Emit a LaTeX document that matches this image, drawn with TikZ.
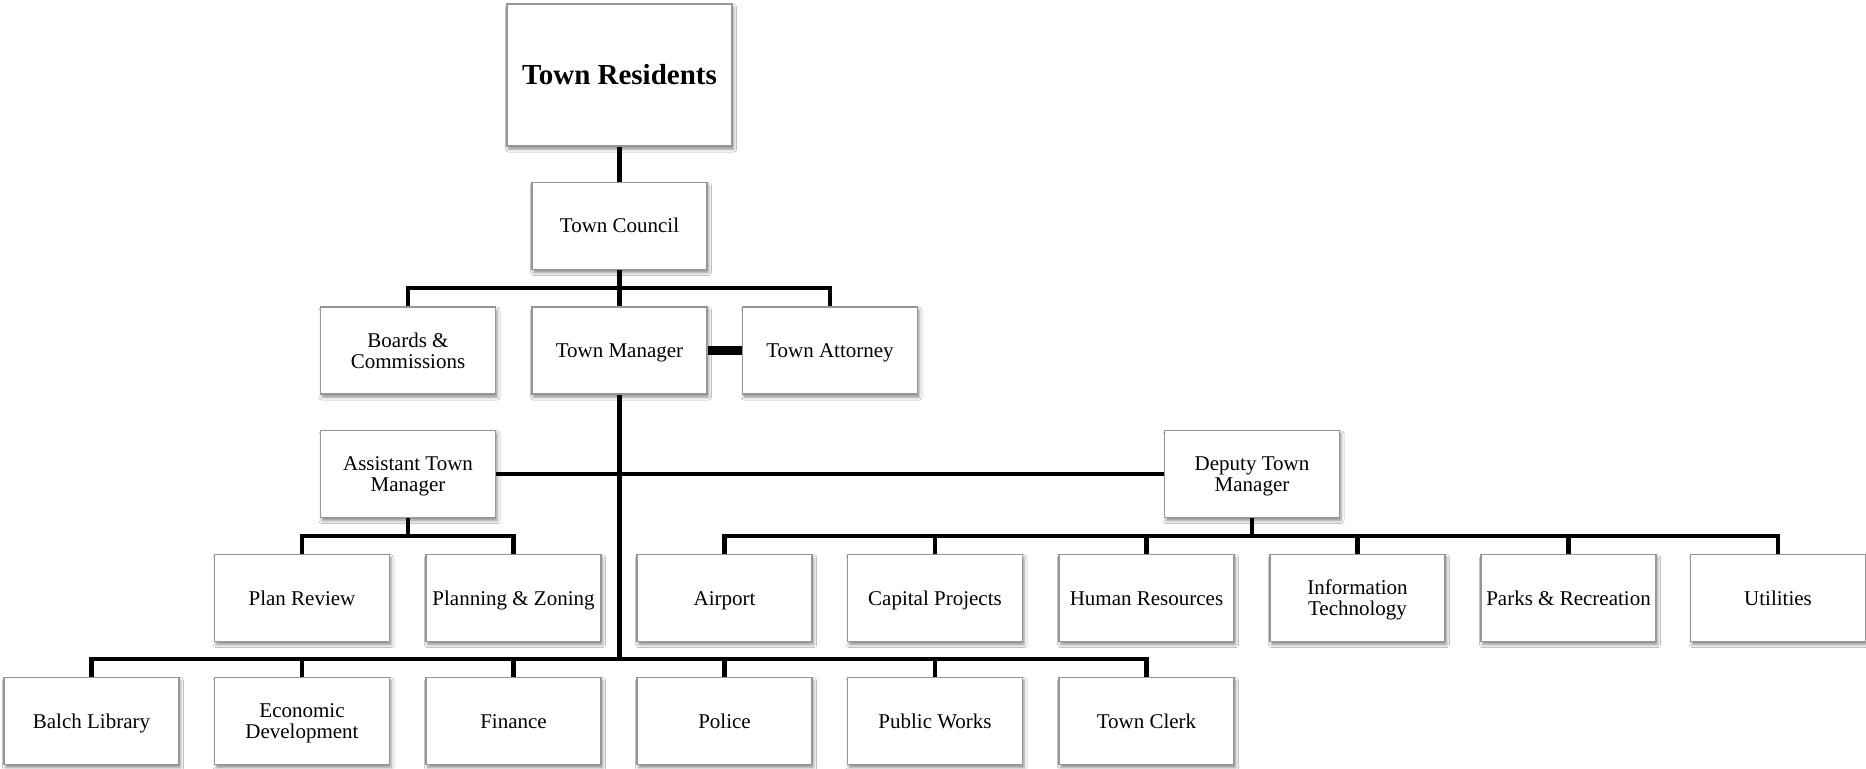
\documentclass[tikz,border=0pt]{standalone}
\usepackage{fontspec}
\setmainfont{Liberation Serif}
\usetikzlibrary{shadows.blur}
\definecolor{boxgray}{RGB}{150,150,150}
\tikzset{
  box/.style={draw=boxgray, line width=0.6pt, fill=white,
    minimum width=87.5pt, minimum height=43.5pt, inner sep=1pt,
    align=center, font=\fontsize{10.5}{10.5}\selectfont,
    blur shadow={shadow xshift=0.8pt, shadow yshift=-1.6pt,
      shadow blur radius=1.5pt, shadow opacity=45}},
  one/.style={box, text height=7pt, text depth=0pt},
  two/.style={box, text depth=0pt},
  bigbox/.style={box, minimum width=112.5pt, minimum height=71pt,
    font=\fontsize{14.5}{14.5}\selectfont\bfseries,
    text height=9.6pt, text depth=0pt},
  conn/.style={line width=2.25pt},
  thickconn/.style={line width=4.1pt},
}
\begin{document}
\begin{tikzpicture}[x=0.5pt,y=-0.5pt]
\useasboundingbox[fill=white] (0,0) rectangle (1866,769);
% top
\node[bigbox] (TR) at (619.5,75) {Town Residents};
\node[one] (TC) at (619.5,226) {Town Council};
% row 2
\node[two] (BC) at (408,350.5) {Boards \&\\Commissions};
\node[one] (TM) at (619.5,350.5) {Town Manager};
\node[one] (TA) at (830,350.5) {Town Attorney};
% row 3
\node[two] (ATM) at (408,474) {Assistant Town\\Manager};
\node[two] (DTM) at (1252,474) {Deputy Town\\Manager};
% row 4
\node[one] (PR) at (302,598) {Plan Review};
\node[one] (PZ) at (513.5,598) {Planning \& Zoning};
\node[one] (AP) at (724.5,598) {Airport};
\node[one] (CP) at (935,598) {Capital Projects};
\node[one] (HR) at (1146.5,598) {Human Resources};
\node[two] (IT) at (1357.5,598) {Information\\Technology};
\node[one] (PK) at (1568.5,598) {Parks \& Recreation};
\node[one] (UT) at (1778,598) {Utilities};
% row 5
\node[one] (BL) at (91.5,721) {Balch Library};
\node[two] (ED) at (302,721) {Economic\\Development};
\node[one] (FI) at (513.5,721) {Finance};
\node[one] (PO) at (724.5,721) {Police};
\node[one] (PW) at (935,721) {Public Works};
\node[one] (TCl) at (1146.5,721) {Town Clerk};
% bus coordinates
\coordinate (bus1) at (619.5,288);
\coordinate (busA) at (408,536);
\coordinate (busD) at (1252,536);
\coordinate (busB) at (619.5,659);
% connectors
\draw[conn] (TR.south) -- (TC.north);
\draw[conn] (TC.south) -- (TM.north);
\draw[conn] (BC.north) |- (bus1) -| (TA.north);
\draw[thickconn] (TM.east) -- (TA.west);
\draw[conn] (ATM.east) -- (DTM.west);
\draw[conn] (TM.south) -- (busB);
\draw[conn] (ATM.south) -- (busA);
\draw[conn] (PR.north) |- (busA) -| (PZ.north);
\draw[conn] (DTM.south) -- (busD);
\draw[conn] (AP.north) |- (busD) -| (UT.north);
\foreach \n in {CP,HR,IT,PK} \draw[conn] (\n.north) -- (\n.north |- busD);
\draw[conn] (BL.north) |- (busB) -| (TCl.north);
\foreach \n in {ED,FI,PO,PW} \draw[conn] (\n.north) -- (\n.north |- busB);
\end{tikzpicture}
\end{document}
